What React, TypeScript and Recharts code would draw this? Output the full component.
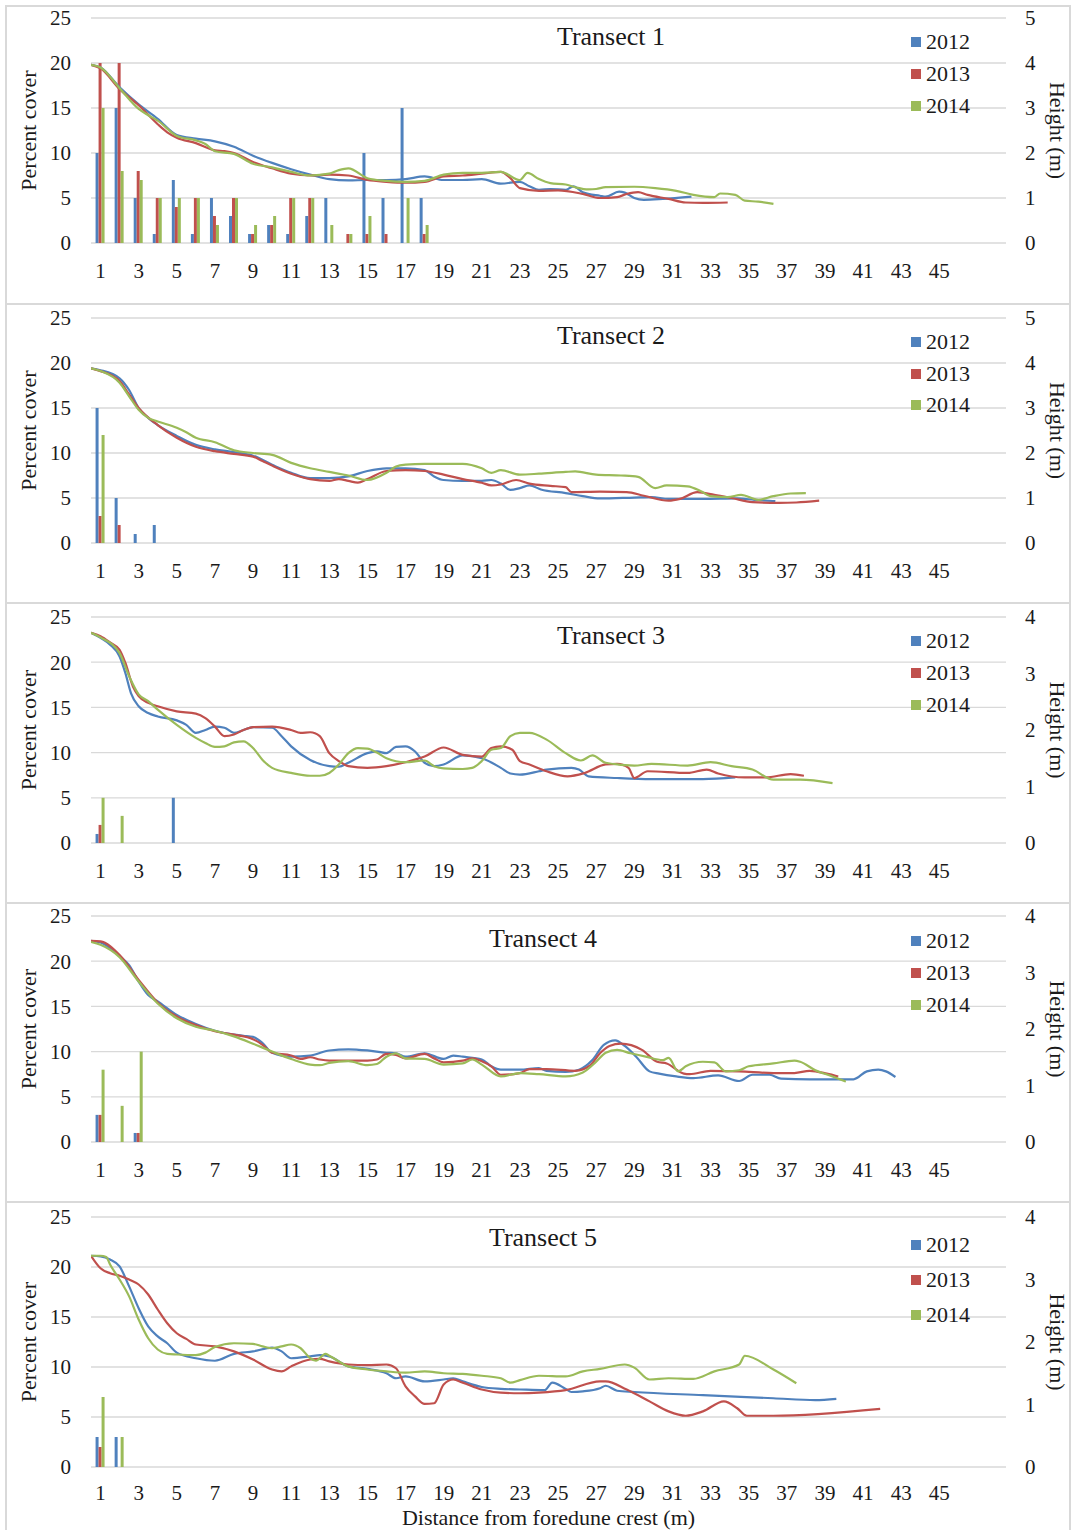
import React, { useMemo } from 'react';
import { Bar, CartesianGrid, ComposedChart, Line, XAxis, YAxis } from 'recharts';

type Pair = [number, number];

const FONT = '"Liberation Serif", "Times New Roman", serif';
const TEXT = '#1a1a1a';
const GRID = '#d9d9d9';

const years = ['2012', '2013', '2014'];
const yearColors = ['#4F81BD', '#C0504D', '#9BBB59'];

// Slots on the category axis (m from the foredune crest); odd ones up to 45 are labelled.
const distanceSlots = [
  1, 2, 3, 4, 5, 6, 7, 8, 9, 10, 11, 12, 13, 14, 15, 16, 17, 18, 19, 20, 21, 22, 23, 24,
  25, 26, 27, 28, 29, 30, 31, 32, 33, 34, 35, 36, 37, 38, 39, 40, 41, 42, 43, 44, 45, 46, 47, 48,
];
const lastLabelledSlot = 45;

const coverTicks = [0, 5, 10, 15, 20, 25];
const heightTicks5 = [0, 1, 2, 3, 4, 5];
const heightTicks4 = [0, 1, 2, 3, 4];

// Percent cover (bars), one value per metre from 1 m
const t1Cover2012 = [10, 15, 5, 1, 7, 1, 5, 3, 1, 2, 1, 3, 5, 0, 10, 5, 15, 5];
const t1Cover2013 = [20, 20, 8, 5, 4, 5, 3, 5, 1, 2, 5, 5, 0, 1, 1, 1, 0, 1];
const t1Cover2014 = [15, 8, 7, 5, 5, 5, 2, 5, 2, 3, 5, 5, 2, 1, 3, 0, 5, 2];

const t2Cover2012 = [15, 5, 1, 2];
const t2Cover2013 = [3, 2, 0, 0];
const t2Cover2014 = [12, 0, 0, 0];

const t3Cover2012 = [1, 0, 0, 0, 5];
const t3Cover2013 = [2, 0, 0, 0, 0];
const t3Cover2014 = [5, 3, 0, 0, 0];

const t4Cover2012 = [3, 0, 1];
const t4Cover2013 = [3, 0, 1];
const t4Cover2014 = [8, 4, 10];

const t5Cover2012 = [3, 3];
const t5Cover2013 = [2, 0];
const t5Cover2014 = [7, 3];

// Dune profile height (m) as [distance, height]
const t1Height2012: Pair[] = [
  [0.5, 3.96], [1, 3.9], [2, 3.46], [3, 3.08], [4, 2.76], [5, 2.4], [6, 2.32], [7, 2.26], [8, 2.14],
  [9, 1.94], [10, 1.78], [11, 1.64], [12, 1.52], [13, 1.42], [14, 1.39], [15, 1.4], [16, 1.4],
  [17, 1.42], [18, 1.48], [19, 1.4], [20, 1.4], [21, 1.42], [22, 1.32], [23, 1.36], [23.5, 1.26],
  [24, 1.18], [24.6, 1.2], [25.4, 1.18], [25.8, 1.26], [26.3, 1.13], [27.2, 1.05], [27.5, 1.03],
  [28.2, 1.14], [28.5, 1.12], [29, 1.0], [29.5, 0.96], [30.5, 0.98], [32, 1.03],
];
const t1Height2013: Pair[] = [
  [0.5, 3.96], [1, 3.88], [2, 3.42], [3, 3.06], [4, 2.64], [4.5, 2.46], [5, 2.34], [6, 2.22],
  [7, 2.06], [7.5, 2.04], [8, 2.0], [9, 1.8], [10, 1.66], [11, 1.54], [12, 1.5], [13, 1.52],
  [14, 1.5], [15, 1.4], [16, 1.36], [17, 1.34], [18, 1.36], [19, 1.48], [20, 1.5], [21, 1.54],
  [22, 1.58], [22.5, 1.44], [23, 1.22], [24, 1.16], [25, 1.17], [26.3, 1.09], [27.2, 1.0],
  [28.1, 1.02], [28.6, 1.09], [29.2, 1.13], [29.7, 1.07], [30.8, 0.98], [31.7, 0.9], [32.6, 0.89],
  [33.9, 0.9],
];
const t1Height2014: Pair[] = [
  [0.5, 3.96], [1, 3.9], [2, 3.44], [3, 2.98], [3.5, 2.84], [4, 2.72], [5, 2.38], [6, 2.28],
  [6.5, 2.2], [7, 2.04], [8, 1.98], [9, 1.76], [10, 1.68], [11, 1.58], [12, 1.5], [13, 1.54],
  [13.5, 1.62], [14, 1.66], [15, 1.44], [16, 1.38], [17, 1.36], [18, 1.38], [19, 1.52], [20, 1.56],
  [21, 1.56], [22, 1.58], [23, 1.4], [23.4, 1.56], [24, 1.42], [24.6, 1.33], [25.4, 1.3],
  [25.9, 1.24], [26.6, 1.19], [27, 1.2], [27.5, 1.24], [29, 1.25], [30.1, 1.22], [31.2, 1.16],
  [32.1, 1.07], [33.2, 1.02], [33.5, 1.1], [34.3, 1.07], [34.8, 0.94], [35.5, 0.92], [36.3, 0.87],
];

const t2Height2012: Pair[] = [
  [0.5, 3.88], [1, 3.84], [2, 3.66], [2.5, 3.4], [3, 3.0], [3.5, 2.78], [4, 2.62], [5, 2.38],
  [6, 2.18], [7, 2.08], [8, 2.02], [9, 1.94], [10, 1.74], [11, 1.56], [12, 1.44], [13, 1.44],
  [14, 1.48], [15, 1.6], [16, 1.66], [17, 1.66], [18, 1.62], [18.5, 1.48], [19, 1.4], [20, 1.38],
  [21, 1.38], [21.5, 1.4], [22, 1.32], [22.5, 1.18], [23, 1.22], [23.5, 1.28], [24.1, 1.19],
  [25.4, 1.11], [26.3, 1.04], [27.2, 0.99], [29, 1.01], [29.9, 1.02], [30.8, 0.98], [32.6, 0.98],
  [34.4, 0.99], [35.3, 0.96], [36.4, 0.93],
];
const t2Height2013: Pair[] = [
  [0.5, 3.88], [1, 3.82], [2, 3.6], [2.5, 3.3], [3, 3.0], [4, 2.62], [5, 2.34], [6, 2.14],
  [7, 2.04], [8, 1.98], [9, 1.92], [9.5, 1.82], [10, 1.72], [11, 1.54], [12, 1.42], [13, 1.38],
  [13.5, 1.42], [14, 1.38], [14.5, 1.34], [15, 1.42], [16, 1.6], [17, 1.62], [18, 1.6], [19, 1.52],
  [20, 1.42], [21, 1.34], [21.5, 1.28], [22, 1.3], [22.8, 1.4], [23.5, 1.32], [24.6, 1.27],
  [25.4, 1.24], [25.7, 1.13], [27.2, 1.14], [28.6, 1.13], [29.5, 1.05], [30.8, 0.94], [31.4, 0.98],
  [32.3, 1.13], [33.2, 1.07], [34.1, 1.0], [35.2, 0.91], [36.6, 0.89], [37.5, 0.9], [38.7, 0.94],
];
const t2Height2014: Pair[] = [
  [0.5, 3.88], [1, 3.82], [2, 3.56], [2.5, 3.26], [3, 2.96], [3.5, 2.78], [4, 2.7], [5, 2.56],
  [5.5, 2.46], [6, 2.34], [7, 2.24], [8, 2.06], [9, 2.0], [10, 1.96], [11, 1.78], [12, 1.66],
  [13, 1.58], [14, 1.5], [15, 1.4], [16, 1.56], [16.5, 1.7], [17, 1.74], [18, 1.76], [19, 1.76],
  [20, 1.76], [21, 1.66], [21.5, 1.56], [22, 1.62], [23, 1.52], [24, 1.54], [25.4, 1.58],
  [25.9, 1.59], [27, 1.52], [28.3, 1.5], [29.2, 1.47], [30.1, 1.22], [30.7, 1.28], [31.8, 1.26],
  [32.5, 1.15], [33, 1.04], [33.9, 1.02], [34.6, 1.07], [35.5, 0.96], [36.3, 1.04], [37.2, 1.1],
  [38, 1.11],
];

const t3Height2012: Pair[] = [
  [0.5, 3.72], [1, 3.63], [1.5, 3.51], [2, 3.3], [2.3, 3.01], [2.6, 2.65], [3, 2.42], [3.5, 2.3],
  [4, 2.24], [5, 2.17], [5.5, 2.09], [6, 1.95], [6.5, 2.0], [7, 2.06], [7.5, 2.04], [8, 1.95],
  [8.5, 2.0], [9, 2.05], [10, 2.04], [10.5, 1.89], [11, 1.71], [12, 1.47], [13, 1.36], [13.5, 1.35],
  [14, 1.42], [15, 1.59], [15.5, 1.62], [16, 1.59], [16.5, 1.7], [17, 1.71], [17.5, 1.62],
  [18, 1.42], [18.5, 1.36], [19, 1.39], [20, 1.55], [21, 1.5], [22, 1.33], [22.5, 1.23], [23, 1.21],
  [24, 1.27], [24.4, 1.3], [25.7, 1.33], [26.1, 1.3], [26.6, 1.18], [28.1, 1.15], [29.9, 1.13],
  [32.6, 1.13], [34.3, 1.16],
];
const t3Height2013: Pair[] = [
  [0.5, 3.72], [1, 3.66], [1.5, 3.55], [2, 3.42], [2.3, 3.19], [2.7, 2.77], [3, 2.6], [3.5, 2.48],
  [4, 2.42], [5, 2.33], [6, 2.29], [6.5, 2.21], [7, 2.06], [7.5, 1.89], [8, 1.92], [8.5, 2.0],
  [9, 2.05], [10, 2.06], [11, 2.0], [11.5, 1.95], [12, 1.96], [12.5, 1.89], [13, 1.59], [13.5, 1.45],
  [14, 1.36], [15, 1.33], [16, 1.36], [17, 1.43], [18, 1.53], [19, 1.69], [20, 1.56], [21, 1.53],
  [21.5, 1.68], [22, 1.71], [22.6, 1.65], [23, 1.45], [23.5, 1.39], [24.4, 1.27], [25.5, 1.18],
  [26.4, 1.24], [27.5, 1.39], [28.1, 1.4], [28.7, 1.33], [29, 1.15], [29.7, 1.27], [31.8, 1.24],
  [32.8, 1.3], [33.4, 1.23], [34.8, 1.16], [35.9, 1.16], [37.2, 1.22], [37.9, 1.19],
];
const t3Height2014: Pair[] = [
  [0.5, 3.72], [1, 3.64], [2, 3.36], [2.5, 2.95], [3, 2.63], [3.5, 2.51], [4, 2.36], [5, 2.09],
  [6, 1.86], [6.5, 1.77], [7, 1.7], [7.5, 1.71], [8, 1.78], [8.5, 1.8], [9, 1.68], [9.5, 1.47],
  [10, 1.33], [11, 1.24], [12, 1.19], [12.5, 1.19], [13, 1.24], [13.5, 1.39], [14, 1.59], [14.5, 1.68],
  [15, 1.67], [15.5, 1.6], [16, 1.5], [17, 1.43], [18, 1.46], [18.5, 1.36], [19, 1.32], [20, 1.31],
  [20.5, 1.33], [21, 1.45], [21.5, 1.65], [22, 1.68], [22.5, 1.89], [23, 1.95], [23.5, 1.95],
  [24.4, 1.83], [25.4, 1.59], [26.2, 1.46], [26.8, 1.55], [27.5, 1.42], [29, 1.37], [29.9, 1.4],
  [31.8, 1.37], [33, 1.43], [34.1, 1.36], [35.2, 1.3], [36.3, 1.12], [37.7, 1.12], [39.4, 1.06],
];

const t4Height2012: Pair[] = [
  [0.5, 3.56], [1, 3.53], [2, 3.29], [2.5, 3.13], [3, 2.84], [3.5, 2.6], [4, 2.49], [5, 2.25],
  [6, 2.09], [7, 1.97], [8, 1.9], [8.5, 1.88], [9, 1.86], [9.5, 1.75], [10, 1.58], [11, 1.51],
  [12, 1.53], [13, 1.62], [14, 1.64], [15, 1.62], [16, 1.58], [16.5, 1.57], [17, 1.51], [18, 1.57],
  [19, 1.47], [19.5, 1.53], [20, 1.51], [21, 1.46], [21.5, 1.34], [22, 1.28], [23, 1.28], [24, 1.31],
  [24.4, 1.26], [25.4, 1.24], [26.1, 1.28], [26.8, 1.45], [27.4, 1.72], [28, 1.8], [28.5, 1.7],
  [29.1, 1.51], [29.8, 1.25], [30.3, 1.21], [31.2, 1.16], [32.1, 1.13], [33.4, 1.18], [34.5, 1.08],
  [35.2, 1.19], [36.1, 1.19], [36.7, 1.12], [38.2, 1.11], [40.5, 1.11], [41.2, 1.25], [41.8, 1.28],
  [42.2, 1.25], [42.7, 1.15],
];
const t4Height2013: Pair[] = [
  [0.5, 3.56], [1, 3.55], [2, 3.31], [3, 2.87], [4, 2.47], [5, 2.22], [6, 2.07], [7, 1.96], [8, 1.9],
  [9, 1.82], [9.5, 1.72], [10, 1.58], [11, 1.53], [11.5, 1.47], [12, 1.5], [12.5, 1.46], [13, 1.44],
  [14, 1.44], [15, 1.44], [15.5, 1.46], [16, 1.56], [16.5, 1.54], [17, 1.48], [18, 1.56], [18.5, 1.48],
  [19, 1.41], [20, 1.44], [20.5, 1.48], [21, 1.43], [21.5, 1.34], [22, 1.19], [23, 1.22], [23.5, 1.29],
  [24.4, 1.29], [25.9, 1.26], [26.7, 1.36], [27.2, 1.57], [27.7, 1.7], [28.3, 1.74], [29.4, 1.63],
  [30.2, 1.42], [30.7, 1.39], [31.6, 1.21], [31.9, 1.2], [33, 1.26], [34.5, 1.25], [36.3, 1.22],
  [37.4, 1.22], [38.2, 1.26], [39.1, 1.21], [39.7, 1.16],
];
const t4Height2014: Pair[] = [
  [0.5, 3.54], [1, 3.49], [2, 3.27], [3, 2.84], [4, 2.45], [5, 2.19], [6, 2.04], [7, 1.97], [8, 1.87],
  [9, 1.74], [10, 1.6], [11, 1.47], [12, 1.37], [12.5, 1.36], [13, 1.4], [14, 1.43], [15, 1.36],
  [15.5, 1.38], [16, 1.51], [16.5, 1.57], [17, 1.48], [18, 1.47], [19, 1.37], [20, 1.39], [20.5, 1.46],
  [21, 1.37], [22, 1.16], [23, 1.22], [24, 1.2], [25.4, 1.16], [26.3, 1.23], [27, 1.42], [27.5, 1.58],
  [28.1, 1.63], [28.8, 1.57], [29.6, 1.51], [30.5, 1.45], [30.8, 1.49], [31.3, 1.25], [31.7, 1.34],
  [32.6, 1.42], [33.2, 1.41], [33.8, 1.25], [34.5, 1.27], [35, 1.34], [36.3, 1.39], [37.4, 1.44],
  [37.7, 1.42], [38.5, 1.27], [39.4, 1.16], [40.1, 1.07],
];

const t5Height2012: Pair[] = [
  [0.5, 3.38], [1, 3.37], [1.5, 3.32], [2, 3.21], [2.5, 2.89], [3, 2.54], [3.5, 2.25], [4, 2.09],
  [4.5, 1.98], [5, 1.83], [6, 1.74], [7, 1.7], [8, 1.81], [9, 1.85], [10, 1.91], [10.5, 1.85],
  [11, 1.74], [12, 1.77], [12.5, 1.79], [13, 1.77], [14, 1.61], [15, 1.57], [16, 1.5], [16.5, 1.42],
  [17, 1.45], [18, 1.37], [19, 1.4], [19.5, 1.42], [20, 1.37], [21, 1.28], [22, 1.25], [23, 1.24],
  [24.3, 1.23], [24.7, 1.35], [25.4, 1.25], [25.7, 1.2], [26.3, 1.21], [27.2, 1.26], [27.5, 1.3],
  [28.1, 1.22], [29, 1.2], [32.6, 1.15], [36.3, 1.1], [38.5, 1.07], [39.6, 1.09],
];
const t5Height2013: Pair[] = [
  [0.5, 3.38], [1, 3.18], [1.5, 3.1], [2, 3.06], [2.5, 3.0], [3, 2.92], [3.5, 2.76], [4, 2.52],
  [4.5, 2.3], [5, 2.14], [5.5, 2.05], [6, 1.96], [7, 1.93], [8, 1.85], [9, 1.72], [10, 1.56],
  [10.5, 1.53], [11, 1.61], [12, 1.72], [12.5, 1.73], [13, 1.69], [14, 1.64], [15, 1.63], [16, 1.64],
  [16.5, 1.58], [17, 1.29], [17.5, 1.13], [18, 1.01], [18.5, 1.02], [19, 1.32], [19.5, 1.4],
  [20, 1.35], [21, 1.24], [22, 1.19], [23, 1.18], [24, 1.19], [25.4, 1.23], [27.2, 1.37],
  [27.5, 1.37], [28.6, 1.24], [29.8, 1.05], [30.8, 0.89], [31.7, 0.82], [32.6, 0.89], [33.7, 1.05],
  [34.4, 0.94], [34.9, 0.82], [36.3, 0.82], [41.9, 0.93],
];
const t5Height2014: Pair[] = [
  [0.5, 3.38], [1, 3.38], [1.3, 3.36], [1.5, 3.24], [2, 3.0], [2.5, 2.73], [3, 2.36], [3.5, 2.06],
  [4, 1.88], [4.5, 1.81], [5, 1.8], [6, 1.79], [6.5, 1.83], [7, 1.92], [8, 1.98], [9, 1.97],
  [9.5, 1.93], [10, 1.9], [10.5, 1.93], [11, 1.96], [11.5, 1.9], [12, 1.74], [12.3, 1.7], [12.8, 1.81],
  [13, 1.78], [14, 1.61], [15, 1.56], [16, 1.53], [17, 1.51], [18, 1.53], [19, 1.5], [20, 1.49],
  [21, 1.46], [22, 1.42], [22.5, 1.35], [23, 1.39], [24, 1.46], [25.4, 1.45], [26.3, 1.53],
  [27.2, 1.57], [28.5, 1.64], [29, 1.59], [29.8, 1.4], [30.8, 1.42], [32.1, 1.41], [33.2, 1.53],
  [34.5, 1.64], [34.8, 1.78], [36.3, 1.56], [37.5, 1.34],
];

interface PanelSpec {
  title: string;
  cover: number[][];
  height: Pair[][];
  heightTicks: number[];
  boxTop: number;
  boxHeight: number;
  plotTop: number;
  plotHeight: number;
  titleX: number;
  titleY: number;
  legendY: number[];
  tickGap: number;
  xTitle?: string;
}

const panels: PanelSpec[] = [
  {
    title: 'Transect 1',
    cover: [t1Cover2012, t1Cover2013, t1Cover2014],
    height: [t1Height2012, t1Height2013, t1Height2014],
    heightTicks: heightTicks5,
    boxTop: 5, boxHeight: 300, plotTop: 18, plotHeight: 225,
    titleX: 611, titleY: 37, legendY: [42, 74, 106], tickGap: 20,
  },
  {
    title: 'Transect 2',
    cover: [t2Cover2012, t2Cover2013, t2Cover2014],
    height: [t2Height2012, t2Height2013, t2Height2014],
    heightTicks: heightTicks5,
    boxTop: 303, boxHeight: 301, plotTop: 318, plotHeight: 225,
    titleX: 611, titleY: 336, legendY: [342, 374, 405], tickGap: 20,
  },
  {
    title: 'Transect 3',
    cover: [t3Cover2012, t3Cover2013, t3Cover2014],
    height: [t3Height2012, t3Height2013, t3Height2014],
    heightTicks: heightTicks4,
    boxTop: 602, boxHeight: 302, plotTop: 617, plotHeight: 226,
    titleX: 611, titleY: 636, legendY: [641, 673, 705], tickGap: 20,
  },
  {
    title: 'Transect 4',
    cover: [t4Cover2012, t4Cover2013, t4Cover2014],
    height: [t4Height2012, t4Height2013, t4Height2014],
    heightTicks: heightTicks4,
    boxTop: 902, boxHeight: 301, plotTop: 916, plotHeight: 226,
    titleX: 543, titleY: 939, legendY: [941, 973, 1005], tickGap: 20,
  },
  {
    title: 'Transect 5',
    cover: [t5Cover2012, t5Cover2013, t5Cover2014],
    height: [t5Height2012, t5Height2013, t5Height2014],
    heightTicks: heightTicks4,
    boxTop: 1201, boxHeight: 335, plotTop: 1217, plotHeight: 250,
    titleX: 543, titleY: 1238, legendY: [1245, 1280, 1315], tickGap: 18,
    xTitle: 'Distance from foredune crest (m)',
  },
];

const CHART_W = 1073;
const PLOT_LEFT = 91;
const PLOT_RIGHT = 1006;
const TOP_PAD = 13;
const AXIS_H = 60;
const BOTTOM_PAD = 8;

function buildCoverTable(series: number[][]) {
  return distanceSlots.map((d, i) => {
    const row: Record<string, number> = { d };
    years.forEach((y, k) => {
      row['c' + y] = series[k][i] ?? 0;
    });
    return row;
  });
}

function toPoints(pairs: Pair[]) {
  return pairs.map(([x, h]) => ({ x, h }));
}

const tickStyle = { fontSize: 21, fontFamily: FONT, fill: TEXT };

function TransectPanel({ p }: { p: PanelSpec }) {
  const table = useMemo(() => buildCoverTable(p.cover), [p]);
  const lines = useMemo(() => p.height.map(toPoints), [p]);
  const hMax = p.heightTicks[p.heightTicks.length - 1];

  return (
    <>
      <div
        style={{
          position: 'absolute',
          left: 5,
          top: p.boxTop,
          width: 1066,
          height: p.boxHeight,
          border: `2px solid ${GRID}`,
          boxSizing: 'border-box',
        }}
      />
      <div style={{ position: 'absolute', left: 0, top: p.plotTop - TOP_PAD }}>
        <ComposedChart
          width={CHART_W}
          height={TOP_PAD + p.plotHeight + AXIS_H + BOTTOM_PAD}
          data={table}
          margin={{ top: TOP_PAD, right: 0, bottom: BOTTOM_PAD, left: 0 }}
          barCategoryGap="24%"
          barGap={0}
        >
          <CartesianGrid xAxisId="cat" yAxisId="cover" vertical={false} stroke={GRID} strokeWidth={1.3} />
          <XAxis
            xAxisId="cat"
            dataKey="d"
            type="category"
            interval={1}
            tickLine={false}
            axisLine={false}
            tickSize={0}
            tickMargin={p.tickGap}
            height={AXIS_H}
            tick={tickStyle}
            tickFormatter={(v) => (Number(v) <= lastLabelledSlot ? String(v) : '')}
            label={
              p.xTitle
                ? {
                    value: p.xTitle,
                    position: 'insideBottom',
                    offset: 2,
                    fontSize: 22,
                    fontFamily: FONT,
                    fill: TEXT,
                  }
                : undefined
            }
          />
          <XAxis xAxisId="dist" dataKey="x" type="number" domain={[0.5, 48.5]} allowDataOverflow hide />
          <YAxis
            yAxisId="cover"
            width={PLOT_LEFT}
            domain={[0, 25]}
            ticks={coverTicks}
            tickLine={false}
            axisLine={false}
            tickSize={0}
            tickMargin={20}
            tick={tickStyle}
            label={{
              value: 'Percent cover',
              angle: -90,
              position: 'insideLeft',
              offset: 28,
              fontSize: 22,
              fontFamily: FONT,
              fill: TEXT,
              style: { textAnchor: 'middle' },
            }}
          />
          <YAxis
            yAxisId="height"
            orientation="right"
            width={CHART_W - PLOT_RIGHT}
            domain={[0, hMax]}
            ticks={p.heightTicks}
            tickLine={false}
            axisLine={false}
            tickSize={0}
            tickMargin={19}
            tick={tickStyle}
            label={{
              value: 'Height (m)',
              angle: 90,
              position: 'insideRight',
              offset: 15,
              fontSize: 22,
              fontFamily: FONT,
              fill: TEXT,
              style: { textAnchor: 'middle' },
            }}
          />
          {years.map((y, k) => (
            <Bar
              key={'bar' + y}
              xAxisId="cat"
              yAxisId="cover"
              dataKey={'c' + y}
              fill={yearColors[k]}
              isAnimationActive={false}
            />
          ))}
          {years.map((y, k) => (
            <Line
              key={'line' + y}
              xAxisId="dist"
              yAxisId="height"
              data={lines[k]}
              dataKey="h"
              type="monotone"
              stroke={yearColors[k]}
              strokeWidth={2.2}
              dot={false}
              activeDot={false}
              isAnimationActive={false}
            />
          ))}
        </ComposedChart>
      </div>
      <div
        style={{
          position: 'absolute',
          left: p.titleX,
          top: p.titleY,
          transform: 'translate(-50%, -50%)',
          fontFamily: FONT,
          fontSize: 26,
          lineHeight: 1,
          color: TEXT,
          whiteSpace: 'nowrap',
        }}
      >
        {p.title}
      </div>
      {years.map((y, k) => (
        <div
          key={'lg' + y}
          style={{
            position: 'absolute',
            left: 911,
            top: p.legendY[k] - 12,
            height: 24,
            display: 'flex',
            alignItems: 'center',
            fontFamily: FONT,
            fontSize: 22,
            color: TEXT,
          }}
        >
          <span style={{ width: 10, height: 10, background: yearColors[k], marginRight: 5 }} />
          {y}
        </div>
      ))}
    </>
  );
}

export default function App() {
  return (
    <div
      style={{
        position: 'absolute',
        left: 0,
        top: 0,
        width: 1073,
        height: 1530,
        background: '#fff',
        overflow: 'hidden',
      }}
    >
      {panels.map((p) => (
        <TransectPanel key={p.title} p={p} />
      ))}
    </div>
  );
}
